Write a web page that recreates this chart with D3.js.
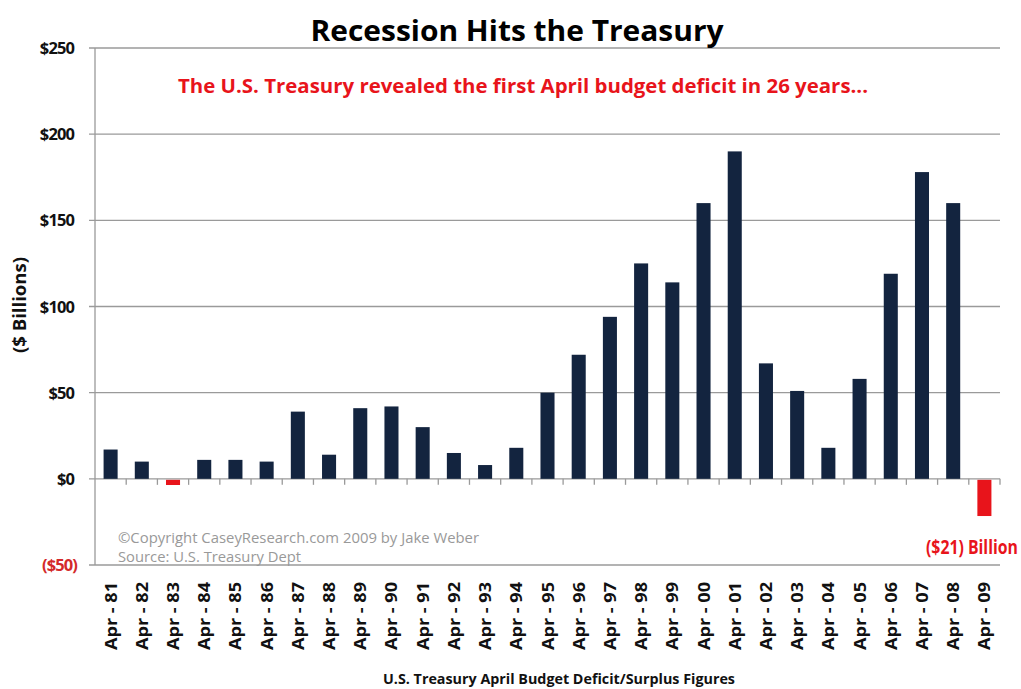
<!DOCTYPE html>
<html><head><meta charset="utf-8">
<script src="https://cdn.jsdelivr.net/npm/d3@7"></script>
<style>body{margin:0;background:#fff}svg{display:block}text{font-family:"Open Sans",Lato,sans-serif}</style>
</head><body><svg id="c" width="1021" height="689"></svg>
<script>
const categories = ["Apr - 81","Apr - 82","Apr - 83","Apr - 84","Apr - 85","Apr - 86","Apr - 87","Apr - 88","Apr - 89","Apr - 90","Apr - 91","Apr - 92","Apr - 93","Apr - 94","Apr - 95","Apr - 96","Apr - 97","Apr - 98","Apr - 99","Apr - 00","Apr - 01","Apr - 02","Apr - 03","Apr - 04","Apr - 05","Apr - 06","Apr - 07","Apr - 08","Apr - 09"];
const values = [17,10,-3,11,11,10,39,14,41,42,30,15,8,18,50,72,94,125,114,160,190,67,51,18,58,119,178,160,-21];
const yTicks = [250,200,150,100,50,0,-50];
const yTickLabels = ["$250","$200","$150","$100","$50","$0","($50)"];

const svg = d3.select("#c");
const x = d3.scaleBand().domain(categories).range([95,1000]).paddingInner(0.55).paddingOuter(0.275);
const y = d3.scaleLinear().domain([-50,250]).range([565,48]);
const navy = "#13243f", red = "#e8141b";

svg.append("g").selectAll("line").data(yTicks.filter(d=>d>=0)).join("line")
  .attr("x1",89).attr("x2",1000).attr("y1",d=>y(d)).attr("y2",d=>y(d))
  .attr("stroke","#9a9a9a").attr("stroke-width",1.3);
svg.append("line").attr("x1",89).attr("x2",1000).attr("y1",y(-50)).attr("y2",y(-50)).attr("stroke","#9a9a9a").attr("stroke-width",1.3);
svg.append("line").attr("x1",95).attr("x2",95).attr("y1",y(250)).attr("y2",y(-50)).attr("stroke","#9a9a9a").attr("stroke-width",1.3);
const step = x.step();
svg.append("g").selectAll("line").data(categories).join("line")
  .attr("x1",d=>x(d)+x.bandwidth()/2+step/2).attr("x2",d=>x(d)+x.bandwidth()/2+step/2)
  .attr("y1",y(0)).attr("y2",y(0)+6).attr("stroke","#9a9a9a").attr("stroke-width",1.3);

svg.append("g").selectAll("rect").data(values).join("rect")
  .attr("x",(d,i)=>x(categories[i])).attr("width",x.bandwidth())
  .attr("y",d=>d>=0?y(d):y(0)+1).attr("height",d=>Math.abs(y(d)-y(0)))
  .attr("fill",d=>d>=0?navy:red);

svg.append("g").selectAll("text").data(yTicks).join("text")
  .attr("x",d=>d<0?77:74).attr("y",d=>y(d)+6).attr("text-anchor","end")
  .attr("font-size",16.5).attr("font-weight","bold").attr("letter-spacing",-0.9)
  .attr("fill",d=>d<0?"#d42a2a":"#111").text((d,i)=>yTickLabels[i]);

svg.append("g").selectAll("text").data(categories).join("text")
  .attr("transform",d=>`translate(${x(d)+x.bandwidth()/2+6},582) rotate(-90)`)
  .attr("text-anchor","end").attr("font-size",16).attr("font-weight","bold").attr("fill","#111")
  .attr("textLength",68).attr("lengthAdjust","spacingAndGlyphs")
  .text(d=>d);

svg.append("text").attr("x",517).attr("y",41).attr("text-anchor","middle").attr("font-size",29).attr("font-weight","bold").attr("fill","#000")
  .attr("textLength",413).attr("lengthAdjust","spacingAndGlyphs").text("Recession Hits the Treasury");
svg.append("text").attr("x",523).attr("y",93).attr("text-anchor","middle").attr("font-size",19.5).attr("font-weight","bold").attr("fill",red)
  .attr("textLength",690).attr("lengthAdjust","spacingAndGlyphs").text("The U.S. Treasury revealed the first April budget deficit in 26 years...");
svg.append("text").attr("transform","translate(26,305) rotate(-90)").attr("text-anchor","middle").attr("font-size",17).attr("font-weight","bold").attr("fill","#111")
  .attr("textLength",96).attr("lengthAdjust","spacingAndGlyphs").text("($ Billions)");
svg.append("text").attr("x",559).attr("y",684).attr("text-anchor","middle").attr("font-size",14).attr("font-weight","bold").attr("fill","#111")
  .attr("textLength",352).attr("lengthAdjust","spacingAndGlyphs").text("U.S. Treasury April Budget Deficit/Surplus Figures");
svg.append("text").attr("x",118).attr("y",543).attr("font-size",14).attr("fill","#999")
  .attr("textLength",361).attr("lengthAdjust","spacingAndGlyphs").text("©Copyright CaseyResearch.com 2009 by Jake Weber");
svg.append("text").attr("x",118).attr("y",562).attr("font-size",14).attr("fill","#999")
  .attr("textLength",183).attr("lengthAdjust","spacingAndGlyphs").text("Source: U.S. Treasury Dept");
const lab = svg.append("text").attr("font-size",19.5).attr("font-weight","bold").attr("fill",red).text("($21) Billion");
const w = lab.node().getComputedTextLength();
lab.attr("transform",`translate(926,554) scale(${92/w},1)`);
</script></body></html>
